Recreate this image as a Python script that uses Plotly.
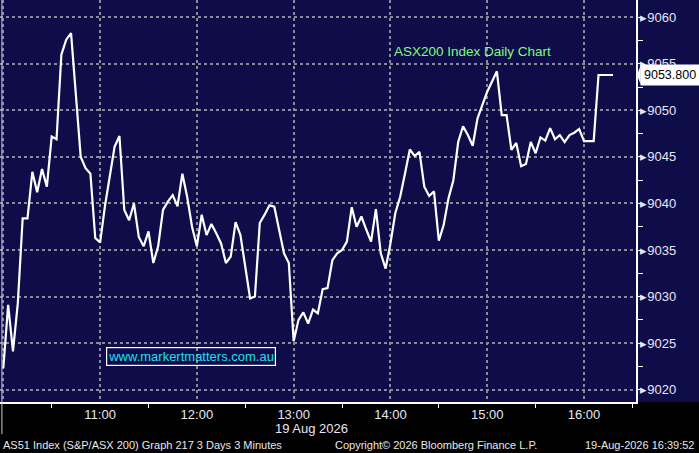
import pandas as pd
import plotly.graph_objects as go

# ---- data (3-minute bars, 19 Aug 2026) ----
start_time = "2026-08-19 10:00"
bar_minutes = 3
values = [
    9022.3, 9029.1, 9024.1, 9029.3, 9038.4, 9038.4, 9043.4, 9041.2, 9043.7, 9041.8,
    9047.2, 9046.9, 9056.0, 9057.6, 9058.3, 9051.5, 9045.0, 9043.8, 9043.2, 9036.3,
    9035.8, 9039.7, 9043.0, 9046.1, 9047.25, 9039.3, 9038.2, 9040.0, 9036.4, 9035.4,
    9037.0, 9033.6, 9035.4, 9039.3, 9040.2, 9040.9, 9039.7, 9043.2, 9040.7, 9037.5,
    9035.4, 9038.8, 9036.6, 9037.8, 9036.8, 9035.7, 9033.6, 9034.3, 9038.0, 9036.6,
    9033.2, 9029.8, 9030.0, 9037.9, 9038.8, 9039.8, 9039.65, 9037.3, 9034.65, 9033.6,
    9025.2, 9027.5, 9028.3, 9027.1, 9028.6, 9028.2, 9030.8, 9030.9, 9033.9, 9034.65,
    9035.0, 9035.9, 9039.6, 9037.5, 9038.6, 9037.2, 9035.9, 9039.4, 9034.65, 9033.0,
    9035.7, 9038.95, 9040.7, 9043.2, 9045.8, 9045.1, 9045.55, 9041.8, 9040.8, 9041.3,
    9036.0, 9037.7, 9040.55, 9042.5, 9046.6, 9048.3, 9047.35, 9046.2, 9049.15, 9050.6,
    9052.0, 9053.1, 9054.2, 9049.5, 9049.5, 9045.75, 9046.5, 9044.0, 9044.25, 9046.6,
    9045.4, 9047.1, 9046.75, 9048.1, 9046.9, 9047.35, 9046.6, 9047.35, 9047.6, 9048.0,
    9046.7, 9046.7, 9046.7, 9053.8, 9053.8, 9053.8, 9053.8,
]
times = pd.date_range(start_time, periods=len(values), freq=f"{bar_minutes}min")

x_tick_vals = ["2026-08-19 10:00", "2026-08-19 11:00", "2026-08-19 12:00", "2026-08-19 13:00",
               "2026-08-19 14:00", "2026-08-19 15:00", "2026-08-19 16:00"]
x_tick_text = ["", "11:00", "12:00", "13:00", "14:00", "15:00", "16:00"]
y_tick_vals = [9020, 9025, 9030, 9035, 9040, 9045, 9050, 9055, 9060]
y_tick_text = ["\u25B8" + str(v) for v in y_tick_vals]

title_text = "ASX200 Index Daily Chart"
watermark = "www.markertmatters.com.au"
date_label = "19 Aug 2026"
footer_left = "AS51 Index (S&P/ASX 200) Graph 217 3 Days 3 Minutes"
footer_mid = "Copyright\u00a9 2026 Bloomberg Finance L.P."
footer_right = "19-Aug-2026 16:39:52"

NAVY = "#0f0c4a"
FONT = "Liberation Sans, Arial, sans-serif"
LABEL = "#e6e6f5"

fig = go.Figure()
fig.add_trace(go.Scatter(x=times, y=values, mode="lines",
                         line=dict(color="white", width=2.2), hoverinfo="skip"))

last_val = values[-1]

fig.update_layout(
    width=699, height=453,
    margin=dict(l=0, r=63, t=0, b=51),
    paper_bgcolor="black", plot_bgcolor=NAVY,
    showlegend=False,
    font=dict(family=FONT, color=LABEL),
    xaxis=dict(
        range=["2026-08-19 09:57:57", "2026-08-19 16:32:14"],
        tickvals=x_tick_vals, ticktext=x_tick_text,
        showgrid=True, gridcolor="#8a8a9a", griddash="dot", gridwidth=1.5,
        showline=True, linecolor="white", linewidth=1.5,
        ticks="", tickfont=dict(size=13, color=LABEL, family=FONT),
        minor=dict(tickvals=["2026-08-19 10:30", "2026-08-19 11:30", "2026-08-19 12:30",
                             "2026-08-19 13:30", "2026-08-19 14:30", "2026-08-19 15:30",
                             "2026-08-19 16:30"],
                   ticks="outside", ticklen=4, tickcolor="white", showgrid=False),
        zeroline=False, fixedrange=True, automargin=False,
    ),
    yaxis=dict(
        side="right", range=[9018.67, 9061.86],
        tickvals=y_tick_vals, ticktext=y_tick_text,
        showgrid=True, gridcolor="#8a8a9a", griddash="dot", gridwidth=1.5,
        showline=True, linecolor="white", linewidth=1.5,
        ticks="", ticklabelstandoff=0,
        tickfont=dict(size=13, color=LABEL, family=FONT),
        minor=dict(dtick=2.5, tick0=9017.5, ticks="outside", ticklen=5,
                   tickcolor="white", showgrid=False),
        zeroline=False, automargin=False,
    ),
)

# navy strip right of the plot (price-axis area)
fig.add_shape(type="rect", xref="paper", yref="paper", x0=1, x1=1.2, y0=0, y1=1,
              fillcolor=NAVY, line=dict(width=0), layer="below")
# left session line
fig.add_shape(type="line", xref="paper", yref="paper", x0=0.003, x1=0.003, y0=-0.08, y1=1,
              line=dict(color="#c8c8d8", width=1))

# last price label with pointer
fig.add_shape(type="path", xref="paper", yref="y",
              path=f"M 1.0015 {last_val} L 1.0075 {last_val + 1.05} L 1.0075 {last_val - 1.05} Z",
              fillcolor="white", line=dict(width=0))
fig.add_annotation(xref="paper", yref="y", x=1.0065, y=last_val, xanchor="left", yanchor="middle",
                   text=f"{last_val:.3f}", showarrow=False, bgcolor="white", borderpad=3,
                   font=dict(size=12.5, color="black", family=FONT))

# title
fig.add_annotation(xref="paper", yref="paper", x=0.616, y=0.871, xanchor="left", yanchor="middle",
                   text=title_text, showarrow=False,
                   font=dict(size=13.5, color="#7dfc7d", family=FONT))
# watermark
fig.add_annotation(xref="paper", yref="paper", x=0.1665, y=0.112, xanchor="left", yanchor="middle",
                   text=watermark, showarrow=False, bordercolor="white", borderwidth=1.2,
                   borderpad=1, font=dict(size=13, color="#19e0f0", family=FONT))
# date label
fig.add_annotation(xref="paper", yref="paper", x=0.49, y=-0.066, xanchor="center", yanchor="middle",
                   text=date_label, showarrow=False,
                   font=dict(size=13, color=LABEL, family=FONT))
# footer
fig.add_annotation(xref="paper", yref="paper", x=0.002, y=-0.108, xanchor="left", yanchor="middle",
                   text=footer_left, showarrow=False, font=dict(size=11, color="#e8e8e8", family=FONT))
fig.add_annotation(xref="paper", yref="paper", x=0.523, y=-0.108, xanchor="left", yanchor="middle",
                   text=footer_mid, showarrow=False, font=dict(size=11, color="#e8e8e8", family=FONT))
fig.add_annotation(xref="paper", yref="paper", x=1.095, y=-0.108, xanchor="right", yanchor="middle",
                   text=footer_right, showarrow=False, font=dict(size=11, color="#e8e8e8", family=FONT))

fig.write_html(
    "out.html",
    config={"displayModeBar": False},
    post_script="document.body.style.margin='0';document.body.style.overflow='hidden';",
)
